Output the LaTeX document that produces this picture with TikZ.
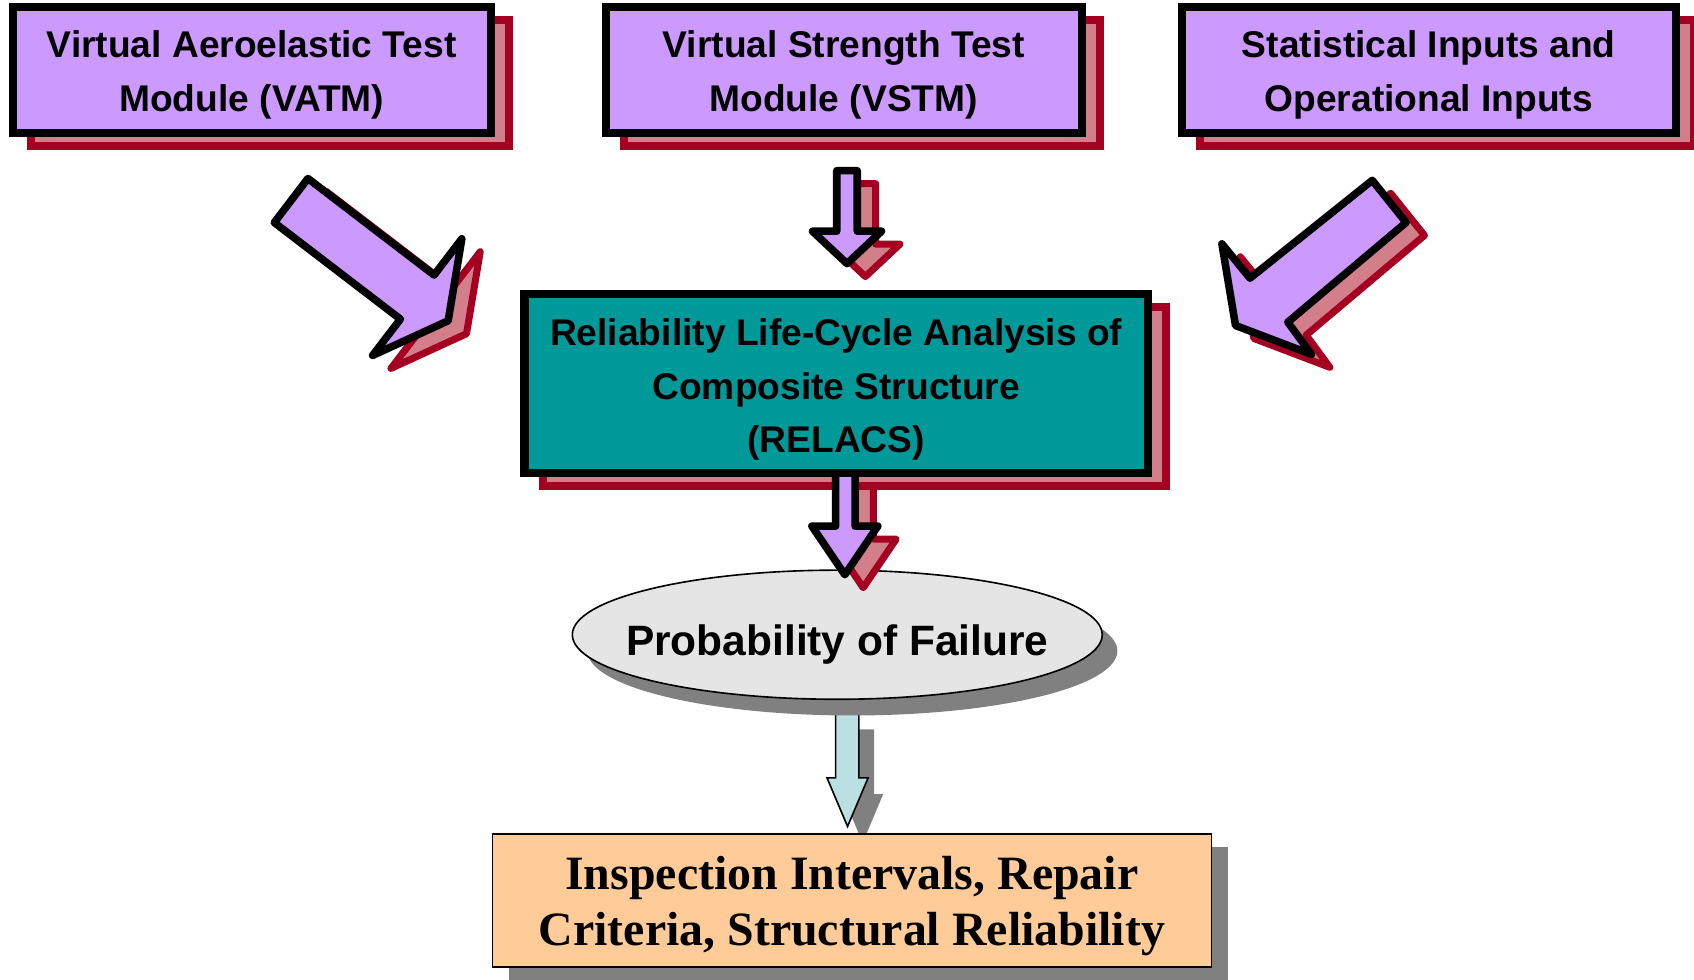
\documentclass[tikz,border=0pt]{standalone}
\usepackage{fontspec}
\setmainfont{Liberation Sans}
\newfontfamily\tnr{Liberation Serif}
\usetikzlibrary{shapes.geometric}
\definecolor{vpurple}{HTML}{CC99FF}
\definecolor{vteal}{HTML}{009999}
\definecolor{dred}{HTML}{A50021}
\definecolor{spink}{HTML}{D27E8B}
\definecolor{egray}{HTML}{E5E5E5}
\definecolor{sgray}{HTML}{808080}
\definecolor{peach}{HTML}{FFCC99}
\definecolor{lcyan}{HTML}{BBE0E3}
\tikzset{
  x=1pt, y=-1pt,
  topbox/.style={draw=black, fill=vpurple, line width=7.5pt, inner sep=0pt, minimum height=117pt},
  toptext/.style={inner sep=0pt, align=center, font=\fontsize{34.4}{50}\selectfont\bfseries},
  redshadowbox/.style={draw=dred, fill=spink, line width=7.5pt, inner sep=0pt, minimum height=117pt},
  relbox/.style={draw=black, fill=vteal, line width=7.5pt, inner sep=0pt,
    minimum width=577pt, minimum height=165pt},
  reltext/.style={inner sep=0pt, align=center, font=\fontsize{34.4}{49.5}\selectfont\bfseries},
  redshadow/.style={draw=dred, fill=spink, line width=6.5pt, line join=round},
  blockarrow/.style={draw=black, fill=vpurple, line width=7pt, line join=round},
  grayshadow/.style={fill=sgray, draw=none},
  pfell/.style={ellipse, draw=black, fill=egray, line width=1.5pt, inner sep=0pt,
    minimum width=490.5pt, minimum height=119.5pt},
  pftext/.style={inner sep=0pt, font=\fontsize{39.3}{47}\selectfont\bfseries},
  outbox/.style={draw=black, fill=peach, line width=1.5pt, inner sep=0pt,
    minimum width=665.5pt, minimum height=123.5pt},
  outtext/.style={inner sep=0pt, align=center, font=\fontsize{44.3}{52}\selectfont\tnr\bfseries},
  cyanarrow/.style={draw=black, fill=lcyan, line width=1.5pt, line join=miter},
}
\begin{document}
\begin{tikzpicture}
\useasboundingbox (0,0) rectangle (1568,907);
\clip (0,0) rectangle (1568,907);
% top boxes
\node[redshadowbox, minimum width=442.5pt] (s1) at (250,77) {};
\node[topbox, minimum width=442.5pt] (vatm) at (233,65) {};
\node[toptext] (vatmt) at (233,69) {Virtual Aeroelastic Test\\Module (VATM)};
\node[redshadowbox, minimum width=440.5pt] (s2) at (798,77) {};
\node[topbox, minimum width=440.5pt] (vstm) at (781,65) {};
\node[toptext] (vstmt) at (781,69) {Virtual Strength Test\\Module (VSTM)};
\node[redshadowbox, minimum width=457.5pt] (s3) at (1339.5,77) {};
\node[topbox, minimum width=457.5pt] (stat) at (1322.5,65) {};
\node[toptext] (statt) at (1322.5,69) {Statistical Inputs and\\Operational Inputs};
% arrow 1
\begin{scope}[shift={(17,12)}]
\draw[redshadow] (285,165.2) -- (401.8,254.6) -- (427.5,221) -- (414.8,296.9) -- (344.9,329) -- (370.6,295.4) -- (253.9,206) -- cycle;
\end{scope}
\draw[blockarrow] (285,165.2) -- (401.8,254.6) -- (427.5,221) -- (414.8,296.9) -- (344.9,329) -- (370.6,295.4) -- (253.9,206) -- cycle;
% arrow 2
\begin{scope}[shift={(17,12)}]
\draw[redshadow] (774.5,158) -- (793.5,158) -- (793.5,214) -- (816,214) -- (784,244) -- (752,214) -- (774.5,214) -- cycle;
\end{scope}
\draw[blockarrow] (774.5,158) -- (793.5,158) -- (793.5,214) -- (816,214) -- (784,244) -- (752,214) -- (774.5,214) -- cycle;
% arrow 3
\begin{scope}[shift={(17,12)}]
\draw[redshadow] (1270.2,166.9) -- (1157,257.5) -- (1131,225.7) -- (1143.6,301.3) -- (1213.9,328) -- (1192,298.2) -- (1301.5,205.9) -- cycle;
\end{scope}
\draw[blockarrow] (1270.2,166.9) -- (1157,257.5) -- (1131,225.7) -- (1143.6,301.3) -- (1213.9,328) -- (1192,298.2) -- (1301.5,205.9) -- cycle;
% arrow 5
\begin{scope}[shift={(14,15)}]
\fill[grayshadow] (773.5,660) -- (795,660) -- (795,720) -- (803.5,720) -- (784.5,765) -- (765.5,720) -- (773.5,720) -- cycle;
\end{scope}
\draw[cyanarrow] (773.5,660) -- (795,660) -- (795,720) -- (803.5,720) -- (784.5,765) -- (765.5,720) -- (773.5,720) -- cycle;
% bottom box
\node[outbox, draw=none, fill=sgray] (os) at (803.5,845.5) {};
\node[outbox] (out) at (788.5,833.5) {};
\node[outtext] (outt) at (788.5,839) {Inspection Intervals, Repair\\Criteria, Structural Reliability};
% ellipse
\node[pfell, draw=none, fill=sgray] (pfs) at (789,602.5) {};
\node[pfell] (pf) at (775,587.5) {};
\node[pftext, anchor=base] (pft) at (775,607) {Probability of Failure};
% arrow 4 and RELACS
\begin{scope}[shift={(17,12)}]
\draw[redshadow] (773.5,430) -- (791.5,430) -- (791.5,487) -- (812.5,487) -- (782,532) -- (751.5,487) -- (773.5,487) -- cycle;
\end{scope}
\node[relbox, draw=dred, fill=spink] (rs) at (791,367) {};
\draw[blockarrow] (773.5,430) -- (791.5,430) -- (791.5,487) -- (812.5,487) -- (782,532) -- (751.5,487) -- (773.5,487) -- cycle;
\node[relbox] (relacs) at (774,355) {};
\node[reltext] (relacst) at (774,360.5) {Reliability Life-Cycle Analysis of\\Composite Structure\\(RELACS)};
\end{tikzpicture}
\end{document}
